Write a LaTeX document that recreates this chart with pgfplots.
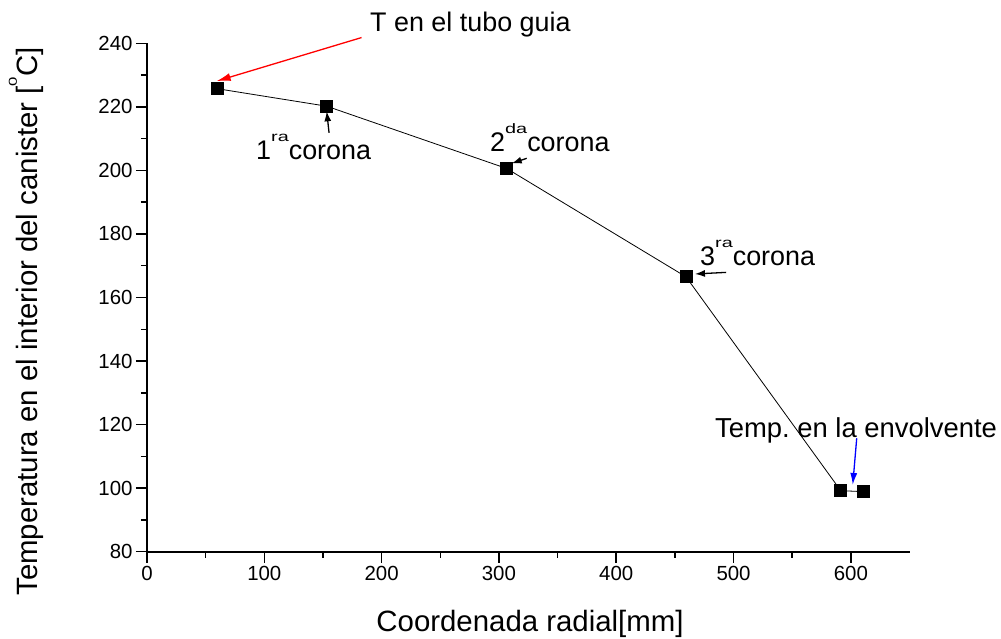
\documentclass[border=0pt]{standalone}
\usepackage{fontspec}
\setmainfont{Liberation Sans}
\usepackage{graphicx}
\usepackage{pgfplots}
\pgfplotsset{compat=1.18}
\usetikzlibrary{arrows.meta}
\frenchspacing
\newcommand{\sups}[3][18bp]{\raisebox{#1}{\scalebox{1.05}[0.72]{\fontsize{#2}{#2}\selectfont #3}}}
\begin{document}
\begin{tikzpicture}[x=1bp,y=1bp]
\useasboundingbox (-147,-87.3) rectangle (854,551.7);
\begin{axis}[
  at={(0,0)}, anchor=south west,
  scale only axis, width=762.5bp, height=508.4bp,
  xmin=0, xmax=650, ymin=80, ymax=240,
  clip=false,
  axis x line*=bottom, axis y line*=left,
  xtick={0,100,...,600}, minor x tick num=1,
  ytick={80,100,...,240}, minor y tick num=1,
  tick align=outside,
  major tick length=11bp, minor tick length=6bp,
  every tick/.style={black, line width=1.5bp},
  axis line style={line width=2bp},
  tick label style={font=\fontsize{20.5}{21}\selectfont},
  /pgf/number format/assume math mode=true,
  xlabel={Coordenada radial[mm]},
  ylabel={Temperatura en el interior del canister [\sups[21bp]{16}{0}C]},
  label style={font=\fontsize{29.5}{31}\selectfont},
  xlabel style={at={(axis description cs:0.5023,-0.1574)}, anchor=base, inner sep=0pt},
  ylabel style={at={(axis description cs:-0.1430,0.4528)}, anchor=base, inner sep=0pt},
]
\addplot[black, line width=0.8bp, mark=square*, mark size=6bp, mark options={solid, fill=black}]
  coordinates {(60,225.7) (153.2,220.2) (306.6,200.6) (459.5,166.5) (591.4,99.2) (611,98.9)};

\node[anchor=base west, inner sep=0pt, font=\fontsize{27}{29}\selectfont] at (axis cs:190.1,243.65) {T en el tubo guia};
\node[anchor=base west, inner sep=0pt, font=\fontsize{27}{29}\selectfont] at (axis cs:92.9,203.3) {1\sups{19}{ra}corona};
\node[anchor=base west, inner sep=0pt, font=\fontsize{27}{29}\selectfont] at (axis cs:292.4,205.9) {2\sups{19}{da}corona};
\node[anchor=base west, inner sep=0pt, font=\fontsize{27}{29}\selectfont] at (axis cs:471.4,170.2) {3\sups{19}{ra}corona};
\node[anchor=base west, inner sep=0pt, font=\fontsize{27.5}{29}\selectfont] at (axis cs:484.2,115.9) {Temp. en la envolvente};

\draw[red, line width=1.3bp, -{Latex[length=14bp,width=8bp]}] (axis cs:182.9,241.8) -- (axis cs:59.4,228.1);
\draw[black, line width=1.3bp, -{Latex[length=10bp,width=7bp]}] (axis cs:155.2,211.8) -- (axis cs:153.2,218.6);
\draw[black, line width=1.3bp, -{Latex[length=10bp,width=7bp]}] (axis cs:323.7,203.8) -- (axis cs:310.9,202.2);
\draw[black, line width=1.3bp, -{Latex[length=10bp,width=7bp]}] (axis cs:493.6,167.9) -- (axis cs:467.1,167.4);
\draw[blue, line width=1.3bp, -{Latex[length=12bp,width=7bp]}] (axis cs:605.0,115.7) -- (axis cs:601.6,101.0);
\end{axis}
\end{tikzpicture}
\end{document}
